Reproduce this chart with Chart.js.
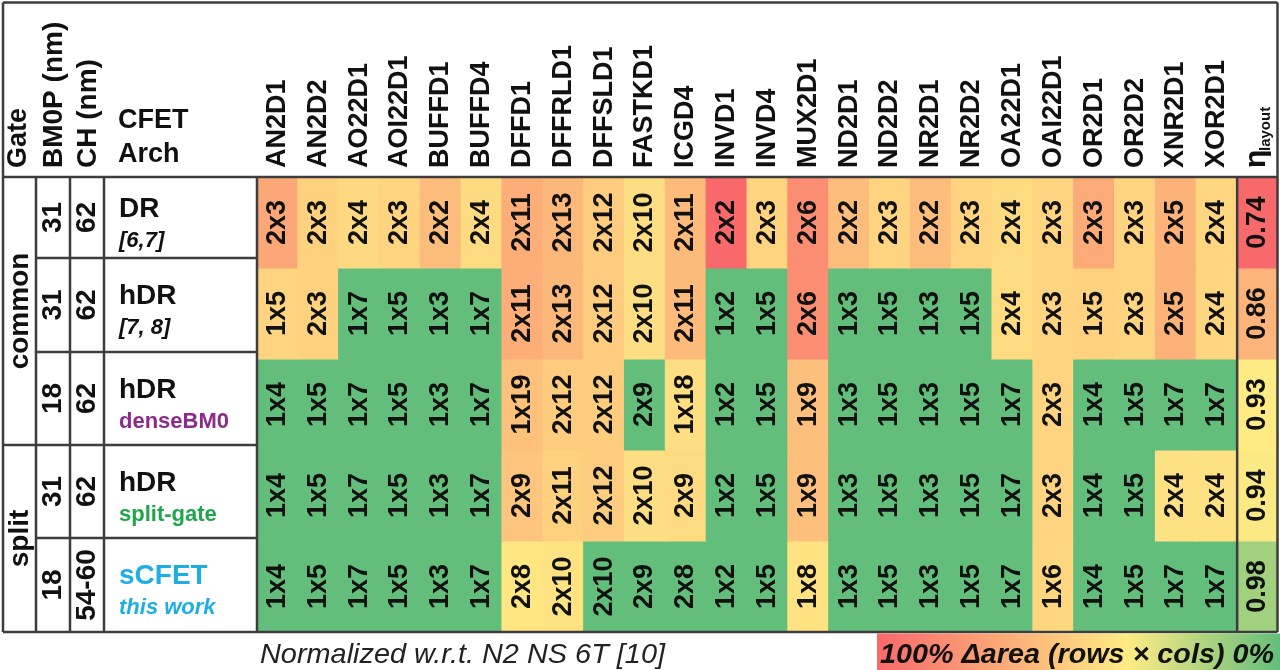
<!DOCTYPE html>
<html>
<head>
<meta charset="utf-8">
<script src="https://cdn.jsdelivr.net/npm/chart.js@4.4.1/dist/chart.umd.min.js"></script>
<style>
  html, body { margin: 0; padding: 0; background: #fff; }
  canvas { display: block; }
</style>
</head>
<body>
<canvas id="chart" width="1280" height="670"></canvas>
<script>
// cell library (columns)
const cells = ['AN2D1', 'AN2D2', 'AO22D1', 'AOI22D1', 'BUFFD1', 'BUFFD4', 'DFFD1', 'DFFRLD1',
  'DFFSLD1', 'FASTKD1', 'ICGD4', 'INVD1', 'INVD4', 'MUX2D1', 'ND2D1', 'ND2D2', 'NR2D1', 'NR2D2',
  'OA22D1', 'OAI22D1', 'OR2D1', 'OR2D2', 'XNR2D1', 'XOR2D1'];

// row descriptors
const gates = ['common', 'split'];
const gateSpans = [3, 2];
const bm0p = ['31', '31', '18', '31', '18'];
const cellHeights = ['62', '62', '62', '62', '54-60'];
const archNames = ['DR', 'hDR', 'hDR', 'hDR', 'sCFET'];
const archNotes = ['[6,7]', '[7, 8]', 'denseBM0', 'split-gate', 'this work'];

// rows x cols of every cell, per architecture
const sizesDR = ['2x3', '2x3', '2x4', '2x3', '2x2', '2x4', '2x11', '2x13', '2x12', '2x10', '2x11', '2x2',
  '2x3', '2x6', '2x2', '2x3', '2x2', '2x3', '2x4', '2x3', '2x3', '2x3', '2x5', '2x4'];
const sizesHDR = ['1x5', '2x3', '1x7', '1x5', '1x3', '1x7', '2x11', '2x13', '2x12', '2x10', '2x11', '1x2',
  '1x5', '2x6', '1x3', '1x5', '1x3', '1x5', '2x4', '2x3', '1x5', '2x3', '2x5', '2x4'];
const sizesDense = ['1x4', '1x5', '1x7', '1x5', '1x3', '1x7', '1x19', '2x12', '2x12', '2x9', '1x18', '1x2',
  '1x5', '1x9', '1x3', '1x5', '1x3', '1x5', '1x7', '2x3', '1x4', '1x5', '1x7', '1x7'];
const sizesSplit = ['1x4', '1x5', '1x7', '1x5', '1x3', '1x7', '2x9', '2x11', '2x12', '2x10', '2x9', '1x2',
  '1x5', '1x9', '1x3', '1x5', '1x3', '1x5', '1x7', '2x3', '1x4', '1x5', '2x4', '2x4'];
const sizesSCFET = ['1x4', '1x5', '1x7', '1x5', '1x3', '1x7', '2x8', '2x10', '2x10', '2x9', '2x8', '1x2',
  '1x5', '1x8', '1x3', '1x5', '1x3', '1x5', '1x7', '1x6', '1x4', '1x5', '1x7', '1x7'];

// delta area (0 = best, 1 = worst), read from the cell shading
const deltaDR = [0.76, 0.6, 0.57, 0.59, 0.68, 0.56, 0.74, 0.7, 0.62, 0.55, 0.69, 1.0,
  0.59, 0.86, 0.68, 0.59, 0.68, 0.59, 0.56, 0.59, 0.75, 0.59, 0.72, 0.58];
const deltaHDR = [0.59, 0.6, 0, 0, 0, 0, 0.74, 0.7, 0.62, 0.55, 0.69, 0,
  0, 0.86, 0, 0, 0, 0, 0.56, 0.59, 0.6, 0.59, 0.72, 0.58];
const deltaDense = [0, 0, 0, 0, 0, 0, 0.66, 0.62, 0.62, 0, 0.55, 0,
  0, 0.67, 0, 0, 0, 0, 0, 0.59, 0, 0, 0, 0];
const deltaSplit = [0, 0, 0, 0, 0, 0, 0.65, 0.6, 0.62, 0.55, 0.56, 0,
  0, 0.67, 0, 0, 0, 0, 0, 0.59, 0, 0, 0.54, 0.54];
const deltaSCFET = [0, 0, 0, 0, 0, 0, 0.52, 0.53, 0, 0, 0, 0,
  0, 0.53, 0, 0, 0, 0, 0, 0.58, 0, 0, 0, 0];

// layout efficiency column
const etaLayout = ['0.74', '0.86', '0.93', '0.94', '0.98'];
const etaShade = [1.0, 0.71, 0.5, 0.487, 0.2];

const rowSizes = [sizesDR, sizesHDR, sizesDense, sizesSplit, sizesSCFET];
const rowDeltas = [deltaDR, deltaHDR, deltaDense, deltaSplit, deltaSCFET];

// excel style 3 colour scale
const GREEN = [99, 190, 123], YELLOW = [255, 235, 132], RED = [248, 105, 107];
function shade(v) {
  let a, b, t;
  if (v <= 0.5) { a = GREEN; b = YELLOW; t = v / 0.5; } else { a = YELLOW; b = RED; t = (v - 0.5) / 0.5; }
  const c = a.map((x, i) => Math.round(x + (b[i] - x) * t));
  return `rgb(${c[0]},${c[1]},${c[2]})`;
}

const FONT = '"Liberation Sans", Arial, sans-serif';
const LINE = '#3d3d3d';
const labels = cells.concat(['eta']);

const datasets = rowSizes.map((sizes, r) => ({
  label: archNames[r] + ' ' + archNotes[r],
  data: labels.map(() => [r, r + 1]),
  backgroundColor: rowDeltas[r].map(shade).concat([shade(etaShade[r])]),
  cellText: sizes.concat([etaLayout[r]]),
  grouped: false,
  borderWidth: 0,
  inflateAmount: 0.6,
  barPercentage: 1,
  categoryPercentage: 1
}));

function rotText(ctx, text, x, y, align, font, color) {
  ctx.save();
  ctx.translate(x, y);
  ctx.rotate(-Math.PI / 2);
  ctx.font = font;
  ctx.fillStyle = color || '#111';
  ctx.textAlign = align;
  ctx.textBaseline = 'middle';
  ctx.fillText(text, 0, 0);
  ctx.restore();
}

function text(ctx, str, x, y, font, color, align) {
  ctx.font = font;
  ctx.fillStyle = color || '#111';
  ctx.textAlign = align || 'left';
  ctx.textBaseline = 'alphabetic';
  ctx.fillText(str, x, y);
}

// draw text squeezed or stretched to a given width
function fitText(ctx, str, x, y, width, font, color) {
  ctx.save();
  ctx.font = font;
  const w = ctx.measureText(str).width;
  ctx.translate(x, y);
  ctx.scale(width / w, 1);
  ctx.fillStyle = color || '#111';
  ctx.textAlign = 'left';
  ctx.textBaseline = 'alphabetic';
  ctx.fillText(str, 0, 0);
  ctx.restore();
}

function line(ctx, x1, y1, x2, y2, w) {
  ctx.beginPath();
  ctx.moveTo(x1, y1);
  ctx.lineTo(x2, y2);
  ctx.lineWidth = w || 2.5;
  ctx.strokeStyle = LINE;
  ctx.stroke();
}

const tablePlugin = {
  id: 'cfetTable',
  beforeDraw(chart) {
    const ctx = chart.ctx;
    ctx.save();
    ctx.fillStyle = '#fff';
    ctx.fillRect(0, 0, chart.width, chart.height);
    ctx.restore();
  },
  afterDatasetsDraw(chart) {
    const ctx = chart.ctx;
    const area = chart.chartArea;
    const xs = chart.scales.x;
    ctx.save();

    // cell labels
    chart.data.datasets.forEach((ds, r) => {
      chart.getDatasetMeta(r).data.forEach((bar, i) => {
        const cy = (bar.y + bar.base) / 2;
        rotText(ctx, ds.cellText[i], bar.x, cy, 'center', 'bold 27px ' + FONT);
      });
    });

    // column headers
    const hb = area.top - 9;
    cells.forEach((c, i) => {
      rotText(ctx, c, xs.getPixelForValue(i), hb, 'left', 'bold 27px ' + FONT);
    });
    const ex = xs.getPixelForValue(cells.length);
    rotText(ctx, '\u03b7', ex - 1, hb, 'left', 'bold 30px ' + FONT);
    rotText(ctx, 'layout', ex + 8, hb - 17, 'left', 'bold 15px ' + FONT);

    // left table header
    rotText(ctx, 'Gate', 19, hb, 'left', 'bold 27px ' + FONT);
    rotText(ctx, 'BM0P (nm)', 54, hb, 'left', 'bold 28px ' + FONT);
    rotText(ctx, 'CH (nm)', 88, hb, 'left', 'bold 28px ' + FONT);
    text(ctx, 'CFET', 118, 128, 'bold 27px ' + FONT);
    text(ctx, 'Arch', 118, 162, 'bold 27px ' + FONT);

    // left table rows
    const rowLines = [area.top, 258, 352, 445, 538, area.bottom];
    const noteColors = ['#111', '#111', '#8e2a8c', '#1fa64a', '#1eaee6'];
    const nameColors = ['#111', '#111', '#111', '#111', '#1eaee6'];
    for (let r = 0; r < 5; r++) {
      const c = (rowLines[r] + rowLines[r + 1]) / 2;
      rotText(ctx, bm0p[r], 53, c, 'center', 'bold 28px ' + FONT);
      rotText(ctx, cellHeights[r], 87, c, 'center', 'bold 28px ' + FONT);
      text(ctx, archNames[r], 119, c - 1, 'bold 28px ' + FONT, nameColors[r]);
      const italic = r < 2 || r === 4;
      text(ctx, archNotes[r], 119, c + 29, (italic ? 'italic ' : '') + 'bold 22px ' + FONT, noteColors[r]);
    }
    let g0 = 0;
    gates.forEach((g, k) => {
      const top = rowLines[g0], bottom = rowLines[g0 + gateSpans[k]];
      rotText(ctx, g, 20, (top + bottom) / 2, 'center', 'bold 28px ' + FONT);
      g0 += gateSpans[k];
    });

    // grid lines
    const L = 3, R = chart.width - 2.5;
    line(ctx, L, 2.5, R, 2.5);
    line(ctx, L, area.top, R, area.top);
    line(ctx, L, area.bottom, R, area.bottom);
    line(ctx, L, 2.5, L, area.bottom);
    line(ctx, R, 2.5, R, area.bottom);
    [36, 70, 104, area.left].forEach(x => line(ctx, x, area.top, x, area.bottom));
    [1, 2, 4].forEach(k => line(ctx, 36, rowLines[k], area.left, rowLines[k]));
    line(ctx, L, rowLines[3], area.left, rowLines[3]);
    const etaLeft = (xs.getPixelForValue(cells.length - 1) + ex) / 2;
    line(ctx, etaLeft, area.top, etaLeft, area.bottom);

    // footer
    fitText(ctx, 'Normalized w.r.t. N2 NS 6T [10]', 260, 663, 405, 'italic 28px ' + FONT, '#222');
    const bx0 = 877, bx1 = chart.width, by0 = area.bottom + 1.5, by1 = chart.height;
    const grad = ctx.createLinearGradient(bx0, 0, bx1, 0);
    grad.addColorStop(0, '#f8696b');
    grad.addColorStop(0.62, '#ffeb84');
    grad.addColorStop(1, '#63be7b');
    ctx.fillStyle = grad;
    ctx.fillRect(bx0, by0, bx1 - bx0, by1 - by0);
    fitText(ctx, '100% \u0394area (rows \u00d7 cols) 0%', 880, 663, 394, 'italic bold 28px ' + FONT, '#111');

    ctx.restore();
  }
};

new Chart(document.getElementById('chart'), {
  type: 'bar',
  data: { labels: labels, datasets: datasets },
  options: {
    responsive: false,
    animation: false,
    layout: { padding: { left: 257, right: 2, top: 177, bottom: 38 } },
    scales: {
      x: { type: 'category', display: false, offset: true },
      y: { type: 'linear', display: false, min: 0, max: 5, reverse: true }
    },
    plugins: { legend: { display: false }, tooltip: { enabled: false } }
  },
  plugins: [tablePlugin]
});
</script>
</body>
</html>
